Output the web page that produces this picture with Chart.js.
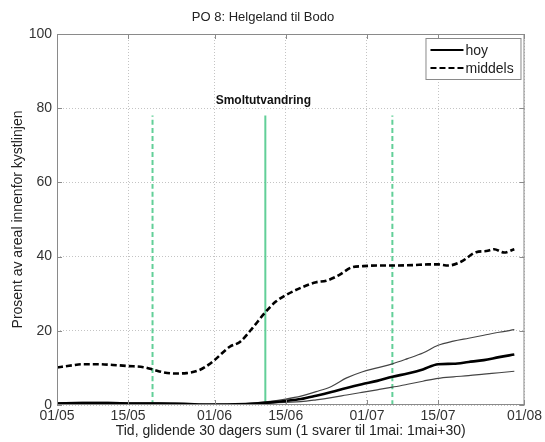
<!DOCTYPE html>
<html lang="no">
<head>
<meta charset="UTF-8">
<title>PO 8: Helgeland til Bodo</title>
<script src="https://cdn.jsdelivr.net/npm/chart.js"></script>
<style>
  html, body { margin: 0; padding: 0; background: #fff; }
  #wrap { width: 545px; height: 442px; }
</style>
</head>
<body>
<div id="wrap"><canvas id="chart" width="545" height="442"></canvas></div>
<script>
// x = dager etter 1. mai
const tickDays = [0, 14, 31, 45, 61, 75, 92];
const tickLabels = ['01/05', '15/05', '01/06', '15/06', '01/07', '15/07', '01/08'];

const middelsDays = [0, 3, 5, 8, 11, 14, 17, 19, 21, 23, 25.5, 28, 30, 31, 34, 36, 38.5, 41, 43, 45, 48, 51, 53, 55.5, 58, 60, 63, 66, 70, 73, 75, 77, 79.5, 82.5, 84.5, 86, 88, 90];
const middels = [10.1, 10.7, 11.0, 11.0, 10.8, 10.5, 10.2, 9.5, 8.8, 8.5, 8.6, 9.4, 11.0, 12.1, 15.7, 17.0, 20.8, 25.0, 27.8, 29.6, 31.6, 33.1, 33.5, 35.0, 37.1, 37.4, 37.6, 37.6, 37.7, 37.9, 37.9, 37.6, 38.6, 41.2, 41.5, 42.0, 41.1, 42.0];

const hoyDays = [0, 5, 10, 15, 20, 25, 30, 35, 39, 42, 45, 48, 51, 54, 57, 60, 63, 66, 69, 72, 75, 78, 81, 84, 87, 90];
const hoy = [0.4, 0.5, 0.5, 0.4, 0.4, 0.3, 0.1, 0.2, 0.4, 0.7, 1.1, 1.6, 2.5, 3.5, 4.6, 5.6, 6.5, 7.6, 8.5, 9.6, 11.0, 11.1, 11.6, 12.1, 12.9, 13.6];
const hoyOvre = [0.6, 0.7, 0.7, 0.6, 0.6, 0.4, 0.2, 0.3, 0.6, 1.0, 1.6, 2.4, 3.6, 5.0, 7.3, 8.9, 10.0, 11.1, 12.5, 14.0, 16.1, 17.2, 18.0, 18.8, 19.6, 20.3];
const hoyNedre = [0.3, 0.4, 0.4, 0.3, 0.3, 0.2, 0.0, 0.1, 0.3, 0.5, 0.7, 0.9, 1.4, 2.0, 2.7, 3.4, 4.1, 4.8, 5.6, 6.4, 7.2, 7.6, 7.9, 8.3, 8.7, 9.1];

// smoltutvandring: start, topp, slutt
const smoltDays = [18.8, 41, 66];
const smoltTop = 78;
const smoltLabel = 'Smoltutvandring';
const smoltLabelY = 82;

const FONT = '"Liberation Sans", Arial, Helvetica, sans-serif';
const GREEN = '#62cf98';

const pts = (xs, ys) => xs.map((x, i) => ({ x: x, y: ys[i] }));

const datasets = [
  { label: 'hoy', data: pts(hoyDays, hoy), borderColor: '#000', borderWidth: 2.6, legend: true },
  { label: 'middels', data: pts(middelsDays, middels), borderColor: '#000', borderWidth: 2.6, borderDash: [6, 3], legend: true },
  { label: 'ovre', data: pts(hoyDays, hoyOvre), borderColor: '#444', borderWidth: 1.2 },
  { label: 'nedre', data: pts(hoyDays, hoyNedre), borderColor: '#444', borderWidth: 1.2 }
];
smoltDays.forEach((d, i) => {
  datasets.push({
    label: 'smolt' + i,
    data: [{ x: d, y: 0 }, { x: d, y: smoltTop }],
    borderColor: GREEN,
    borderWidth: 2,
    borderDash: i === 1 ? [] : [5, 3],
    tension: 0
  });
});

// ramme, ticks inni aksene, tekst og legend
const boxPlugin = {
  id: 'box',
  afterDatasetsDraw(chart) {
    const { ctx, chartArea: a, scales } = chart;
    ctx.save();
    ctx.strokeStyle = '#8a8a8a';
    ctx.lineWidth = 1;
    ctx.strokeRect(a.left + 0.5, a.top + 0.5, a.right - a.left - 1, a.bottom - a.top - 1);
    ctx.beginPath();
    tickDays.forEach(d => {
      const x = Math.round(scales.x.getPixelForValue(d)) + 0.5;
      ctx.moveTo(x, a.bottom); ctx.lineTo(x, a.bottom - 5);
      ctx.moveTo(x, a.top); ctx.lineTo(x, a.top + 5);
    });
    [0, 20, 40, 60, 80, 100].forEach(v => {
      const y = Math.round(scales.y.getPixelForValue(v)) + 0.5;
      ctx.moveTo(a.left, y); ctx.lineTo(a.left + 5, y);
      ctx.moveTo(a.right, y); ctx.lineTo(a.right - 5, y);
    });
    ctx.stroke();

    // smolt-tekst
    ctx.fillStyle = '#111';
    ctx.font = 'bold 12px ' + FONT;
    ctx.textAlign = 'center';
    ctx.textBaseline = 'middle';
    ctx.fillText(smoltLabel, scales.x.getPixelForValue(smoltDays[1]) - 2, scales.y.getPixelForValue(smoltLabelY));

    // legend
    const items = chart.data.datasets.filter(d => d.legend);
    const bx = a.right - 99, by = a.top + 4, bw = 95, bh = 41;
    ctx.fillStyle = '#fff';
    ctx.fillRect(bx, by, bw, bh);
    ctx.strokeStyle = '#8a8a8a';
    ctx.strokeRect(bx + 0.5, by + 0.5, bw, bh);
    ctx.font = '14px ' + FONT;
    ctx.textAlign = 'left';
    items.forEach((d, i) => {
      const y = by + 12 + i * 18;
      ctx.beginPath();
      ctx.strokeStyle = d.borderColor;
      ctx.lineWidth = 2;
      ctx.setLineDash(d.borderDash || []);
      ctx.moveTo(bx + 5, y); ctx.lineTo(bx + 38, y);
      ctx.stroke();
      ctx.setLineDash([]);
      ctx.fillStyle = '#222';
      ctx.fillText(d.label, bx + 40, y + 1);
    });
    ctx.restore();
  }
};

new Chart(document.getElementById('chart'), {
  type: 'line',
  data: { datasets: datasets },
  plugins: [boxPlugin],
  options: {
    responsive: false,
    animation: false,
    layout: { padding: { left: 0, right: 19, top: 0, bottom: 0 } },
    elements: {
      point: { radius: 0 },
      line: { tension: 0.4, cubicInterpolationMode: 'monotone', fill: false }
    },
    plugins: {
      legend: { display: false },
      tooltip: { enabled: false },
      title: {
        display: true,
        text: 'PO 8: Helgeland til Bodo',
        color: '#222',
        font: { family: FONT, size: 13, weight: 'normal' },
        padding: { top: 10, bottom: 8.4 }
      }
    },
    scales: {
      x: {
        type: 'linear',
        min: 0,
        max: 92,
        afterFit: s => { s.height = 37; },
        afterBuildTicks: s => { s.ticks = tickDays.map(v => ({ value: v })); },
        ticks: {
          autoSkip: false,
          maxRotation: 0,
          padding: 3,
          color: '#333',
          font: { family: FONT, size: 14 },
          callback: v => tickLabels[tickDays.indexOf(v)]
        },
        grid: { color: '#c4c4c4', drawTicks: false },
        border: { display: false, dash: [1, 2] },
        title: {
          display: true,
          text: 'Tid, glidende 30 dagers sum (1 svarer til 1mai: 1mai+30)',
          color: '#222',
          font: { family: FONT, size: 14 },
          padding: { top: 0, bottom: 2 }
        }
      },
      y: {
        min: 0,
        max: 100,
        afterFit: s => { s.width = 57; },
        ticks: {
          stepSize: 20,
          padding: 5,
          color: '#333',
          font: { family: FONT, size: 14 }
        },
        grid: { color: '#c4c4c4', drawTicks: false },
        border: { display: false, dash: [1, 2] },
        title: {
          display: true,
          text: 'Prosent av areal innenfor kystlinjen',
          color: '#222',
          font: { family: FONT, size: 14 },
          padding: { top: 10, bottom: 0 }
        }
      }
    }
  }
});
</script>
</body>
</html>
